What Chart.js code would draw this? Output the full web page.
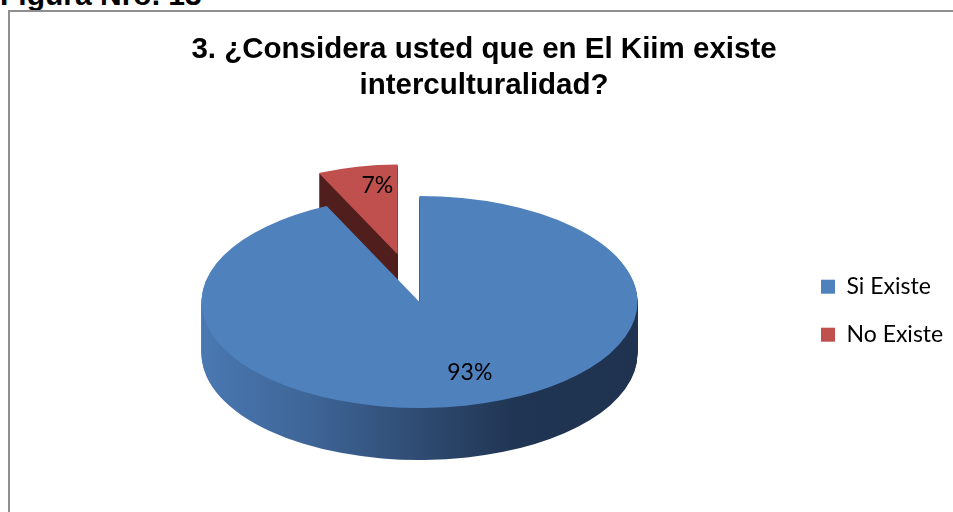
<!DOCTYPE html>
<html><head><meta charset="utf-8">
<script src="https://cdn.jsdelivr.net/npm/chart.js@4"></script>
<style>
html,body{margin:0;padding:0;background:#fff;width:953px;height:512px;overflow:hidden;position:relative}
#fig{position:absolute;left:0;top:-20px;font:bold 30px "Liberation Sans",Arial,sans-serif;line-height:30px;color:#000;white-space:nowrap}
#frame{position:absolute;left:8px;top:10px;width:960px;height:520px;border-left:2px solid #8f8f8f;border-top:2px solid #8f8f8f}
#c{position:absolute;left:0;top:0}
</style></head><body>
<div id="fig">Figura Nro. 13</div>
<div id="frame"></div>
<canvas id="c" width="953" height="512"></canvas>
<script>
const titleLines = ['3. ¿Considera usted que en El Kiim existe', 'interculturalidad?'];
const categories = ['Si Existe', 'No Existe'];
const values = [93, 7];
const valueLabels = ['93%', '7%'];
const sliceColors = ['#4F81BD', '#C0504D'];

const pie3d = {
  id: 'pie3d',
  beforeDatasetsDraw(chart, args, o) {
    const ctx = chart.ctx;
    const arcs = chart.getDatasetMeta(0).data;
    if (!arcs.length) return false;
    const cx = arcs[0].x, cy = arcs[0].y, R = arcs[0].outerRadius;
    const k = o.tilt, D = o.depth, cyT = o.centerY, dx = o.centerX - cx;
    const explodeOf = (arc, i) => {
      const a = (arc.startAngle + arc.endAngle) / 2;
      const e = o.explode[i] || 0;
      return [Math.cos(a) * e, Math.sin(a) * e];
    };
    const sides = o.sideColors.map(s => {
      if (Array.isArray(s)) {
        const g = ctx.createLinearGradient(cx - R, 0, cx + R, 0);
        s.forEach(([t, c]) => g.addColorStop(t, c));
        return g;
      }
      return s;
    });
    for (const i of o.order) {
      const arc = arcs[i];
      const [ex, ey] = explodeOf(arc, i);
      const s = o.sliceScale[i] || 1;
      const base = arc.options;
      for (let d = D; d >= 0; d--) {
        ctx.save();
        ctx.translate(dx, cyT + d - k * cy);
        ctx.scale(1, k);
        ctx.translate(ex, ey);
        ctx.translate(arc.x, arc.y);
        ctx.scale(s, s);
        ctx.translate(-arc.x, -arc.y);
        arc.options = d === 0 ? base : Object.assign({}, base, {backgroundColor: sides[i]});
        arc.draw(ctx);
        ctx.restore();
      }
      arc.options = base;
    }
    ctx.save();
    ctx.font = o.labelFont;
    ctx.fillStyle = o.labelColor;
    ctx.textAlign = 'center';
    ctx.textBaseline = 'middle';
    arcs.forEach((arc, i) => {
      const a = (arc.startAngle + arc.endAngle) / 2;
      const [ex, ey] = explodeOf(arc, i);
      const s = o.sliceScale[i] || 1;
      const nudge = o.labelNudge[i] || [0, 0];
      const rx = arc.x + Math.cos(a) * R * s * o.labelRadius + ex;
      const ry = arc.y + Math.sin(a) * R * s * o.labelRadius + ey;
      ctx.fillText(valueLabels[i], rx + dx + nudge[0], cyT + k * (ry - cy) + nudge[1]);
    });
    ctx.restore();
    return false;
  }
};

new Chart(document.getElementById('c'), {
  type: 'pie',
  data: {
    labels: categories,
    datasets: [{ data: values, backgroundColor: sliceColors, borderWidth: 0 }]
  },
  plugins: [pie3d],
  options: {
    responsive: false,
    animation: false,
    events: [],
    radius: 218,
    layout: { padding: { top: 12, left: 15, right: 0, bottom: 3 } },
    plugins: {
      title: {
        display: true, text: titleLines, color: '#000',
        font: { family: '"Liberation Sans", Arial, sans-serif', size: 29.5, weight: 'bold', lineHeight: 36 / 29.5 },
        padding: { top: 19.5, bottom: 10 }
      },
      legend: {
        position: 'right', maxWidth: 157,
        title: { display: true, text: '', font: { size: 12, lineHeight: 1.2 }, padding: { top: 0, bottom: 86 } },
        labels: { boxWidth: 14, boxHeight: 14, padding: 25, color: '#000', font: { family: 'Lato', size: 23 } }
      },
      tooltip: { enabled: false },
      pie3d: {
        centerX: 419.5, centerY: 302, tilt: 0.4862, depth: 52, explode: [0, 100], order: [1, 0], sliceScale: [1, 0.85],
        sideColors: [[[0, '#4A78B2'], [0.25, '#3E6597'], [0.5, '#2F4B72'], [0.72, '#203553'], [1, '#1F3350']], '#4F1E1D'],
        labelFont: '23px Lato', labelColor: '#000', labelRadius: 0.7, labelNudge: [[17, -2], [8, -7]]
      }
    }
  }
});
</script>
</body></html>
